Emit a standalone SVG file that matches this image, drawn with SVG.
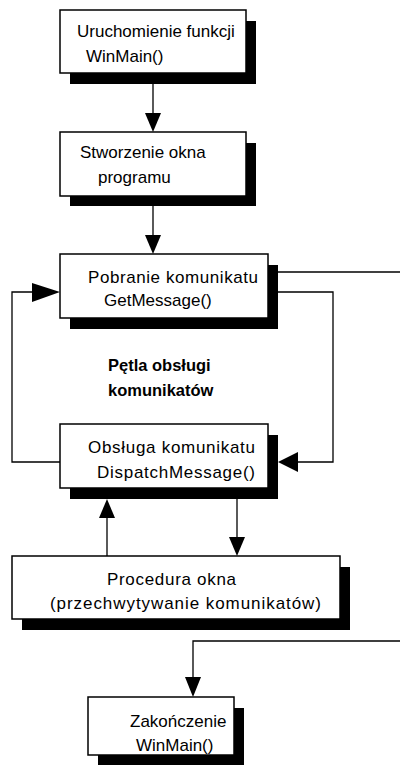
<svg xmlns="http://www.w3.org/2000/svg" width="400" height="766" viewBox="0 0 400 766">
<style>
.box{fill:#fff;stroke:#000;stroke-width:1.5}
.sh{fill:#000}
.t{font-family:"Liberation Sans",Arial,sans-serif;font-size:17px;fill:#000}
.b{font-family:"Liberation Sans",Arial,sans-serif;font-size:16.5px;font-weight:bold;fill:#000}
.ln{fill:none;stroke:#000;stroke-width:1.3}
.ah{fill:#000}
</style>
<rect width="400" height="766" fill="#fff"/>
<g id="connectors">
<line class="ln" x1="153" y1="84" x2="153" y2="114"/>
<polygon class="ah" points="145,113 161,113 153,132"/>
<line class="ln" x1="153" y1="206" x2="153" y2="236"/>
<polygon class="ah" points="145,235 161,235 153,254"/>
<polyline class="ln" points="278,272 400,272"/>
<polyline class="ln" points="278,292 333,292 333,462 297,462"/>
<polygon class="ah" points="298,452 298,472 278,462"/>
<polyline class="ln" points="60,462 12,462 12,292 33,292"/>
<polygon class="ah" points="32,283 32,302 60,292"/>
<line class="ln" x1="237" y1="499" x2="237" y2="538"/>
<polygon class="ah" points="229,537 245,537 237,556"/>
<line class="ln" x1="107" y1="556" x2="107" y2="517"/>
<polygon class="ah" points="99,518 115,518 107,499"/>
<polyline class="ln" points="400,641 193,641 193,678"/>
<polygon class="ah" points="185,677 201,677 193,697"/>
</g>
<g id="n1">
<rect class="sh" x="70" y="21" width="186" height="63"/>
<rect class="box" x="60" y="10" width="186" height="63"/>
<text class="t" x="77" y="37">Uruchomienie funkcji</text>
<text class="t" x="86" y="62">WinMain()</text>
</g>
<g id="n2">
<rect class="sh" x="70" y="143" width="186" height="63"/>
<rect class="box" x="60" y="132" width="186" height="64"/>
<text class="t" x="80" y="158">Stworzenie okna</text>
<text class="t" x="98" y="183">programu</text>
</g>
<g id="n3">
<rect class="sh" x="70" y="265" width="208" height="64"/>
<rect class="box" x="60" y="254" width="208" height="64"/>
<text class="t" x="88" y="283" textLength="170" lengthAdjust="spacing">Pobranie komunikatu</text>
<text class="t" x="104" y="306">GetMessage()</text>
</g>
<g id="label">
<text class="b" x="108" y="371">Pętla obsługi</text>
<text class="b" x="108" y="396">komunikatów</text>
</g>
<g id="n4">
<rect class="sh" x="70" y="435" width="208" height="64"/>
<rect class="box" x="60" y="424" width="208" height="64"/>
<text class="t" x="88" y="453" textLength="167" lengthAdjust="spacing">Obsługa komunikatu</text>
<text class="t" x="97" y="478" textLength="158" lengthAdjust="spacing">DispatchMessage()</text>
</g>
<g id="n5">
<rect class="sh" x="22" y="567" width="328" height="63"/>
<rect class="box" x="12" y="556" width="328" height="63"/>
<text class="t" x="107" y="585" textLength="129" lengthAdjust="spacing">Procedura okna</text>
<text class="t" x="50" y="609" textLength="271" lengthAdjust="spacing">(przechwytywanie komunikatów)</text>
</g>
<g id="n6">
<rect class="sh" x="98" y="708" width="146" height="57"/>
<rect class="box" x="88" y="697" width="146" height="58"/>
<text class="t" x="130" y="727">Zakończenie</text>
<text class="t" x="136" y="751">WinMain()</text>
</g>
</svg>
